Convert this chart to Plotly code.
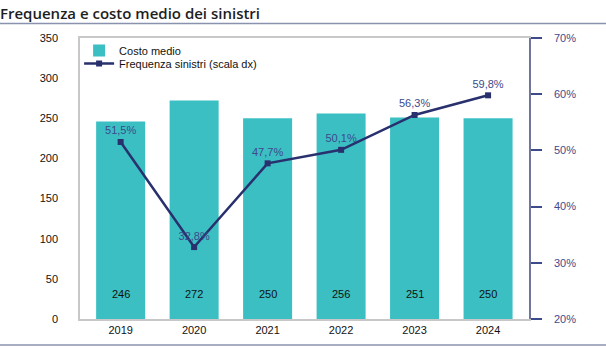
import plotly.graph_objects as go

years = ["2019", "2020", "2021", "2022", "2023", "2024"]
costo_medio = [246, 272, 250, 256, 251, 250]
frequenza = [51.5, 32.8, 47.7, 50.1, 56.3, 59.8]
left_ticks = [0, 50, 100, 150, 200, 250, 300, 350]
right_ticks = [20, 30, 40, 50, 60, 70]

BAR = "#3BBFC2"
NAVY = "#28306E"
AXBLUE = "#3D4A8C"
FONT = "Liberation Sans, Arial, sans-serif"
LABEL_Y = 31  # bar value labels sit near the bar base

fig = go.Figure()
fig.add_trace(go.Bar(
    x=years, y=costo_medio, name="Costo medio",
    marker=dict(color=BAR, line=dict(width=0)),
    width=0.667, legend="legend",
))
fig.add_trace(go.Scatter(
    x=years, y=frequenza, name="Frequenza sinistri (scala dx)", yaxis="y2",
    mode="lines+markers+text",
    line=dict(color=NAVY, width=2.5),
    marker=dict(symbol="square", size=6, color=NAVY),
    text=[f"{v:.1f}%".replace(".", ",") for v in frequenza],
    textposition="top center",
    textfont=dict(color=AXBLUE, size=11, family=FONT),
    legend="legend2",
))
for i, v in enumerate(costo_medio):
    fig.add_annotation(x=i, y=LABEL_Y, text=str(v), showarrow=False,
                       xref="x", yref="y", yanchor="middle",
                       font=dict(color="#111111", size=11, family=FONT))

leg_common = dict(xanchor="left", yanchor="middle", bgcolor="rgba(0,0,0,0)",
                  font=dict(size=11, color="#111111"), itemwidth=30)
fig.update_layout(
    width=606, height=348,
    margin=dict(l=80, r=77, t=38, b=29),
    paper_bgcolor="white", plot_bgcolor="white",
    font=dict(family=FONT, size=11, color="#222222"),
    showlegend=True,
    legend=dict(x=-0.002, y=1 - 12.5/281, **leg_common),
    legend2=dict(x=-0.002, y=1 - 25.5/281, **leg_common),
    bargap=0.333,
    xaxis=dict(type="category", range=[-0.553, 5.557], showline=True,
               linecolor="#C8C8C8", linewidth=1.5, mirror=True, ticks="",
               showgrid=False, tickfont=dict(size=11, color="#111111")),
    yaxis=dict(range=[0, 350], tickvals=left_ticks, showgrid=False,
               showline=True, linecolor="#C8C8C8", linewidth=1.5,
               ticks="", ticklabelstandoff=18, zeroline=False,
               tickfont=dict(size=11, color="#111111")),
    yaxis2=dict(range=[20, 70], tickvals=right_ticks,
                ticktext=[f"{v}%" for v in right_ticks],
                overlaying="y", side="right", showgrid=False,
                showline=True, linecolor="#6E76A0", linewidth=1.5,
                ticks="outside", ticklen=11, tickcolor="#3D4A8C", tickwidth=1.5,
                ticklabelstandoff=10, zeroline=False,
                tickfont=dict(size=11, color=AXBLUE)),
)

fig.add_annotation(
    text="Frequenza e costo medio dei sinistri", xref="paper", yref="paper",
    x=-82/449, y=1 + 25/281, xanchor="left", yanchor="middle", showarrow=False,
    font=dict(family="Open Sans, sans-serif", size=15, color="#1E1E1E", weight=600),
)
fig.add_shape(type="line", xref="paper", yref="paper",
              x0=-80/449, x1=1 + 77/449, y0=1 + 14.5/281, y1=1 + 14.5/281,
              line=dict(color="#8A92AE", width=1.5))
fig.add_shape(type="line", xref="paper", yref="paper",
              x0=-80/449, x1=1 + 77/449, y0=-26/281, y1=-26/281,
              line=dict(color="#8A92AE", width=1.5))

fig.write_html("out.html")
